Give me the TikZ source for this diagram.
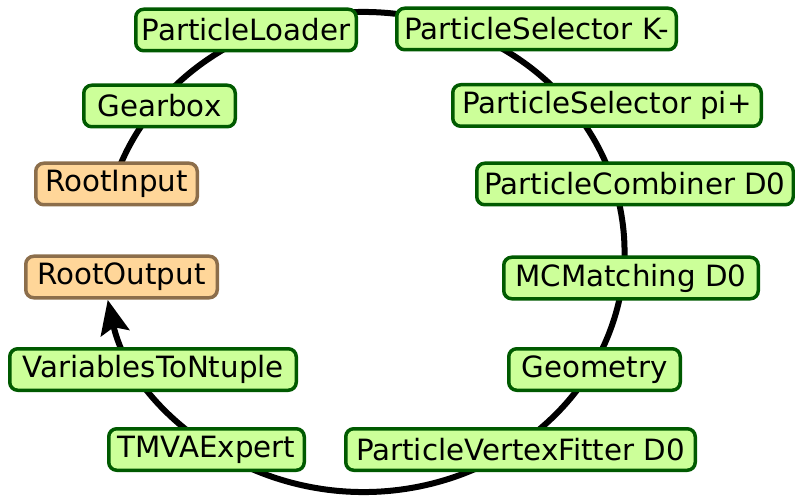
\documentclass[tikz,border=0pt]{standalone}
\usepackage{fontspec}
\setmainfont{DejaVu Sans}
\usetikzlibrary{arrows.meta,backgrounds,calc}
\definecolor{gfill}{HTML}{CCFF99}
\definecolor{gdraw}{HTML}{005A00}
\definecolor{ofill}{HTML}{FFD699}
\definecolor{odraw}{HTML}{8C6E4B}
\tikzset{
  modbox/.style={draw=gdraw, fill=gfill, line width=3.5pt, rounded corners=8pt,
    inner sep=0pt, minimum height=41.5pt, minimum width=#1,
    font=\fontsize{29.3}{34}\selectfont},
  iobox/.style={modbox=#1, draw=odraw, fill=ofill},
  ring/.style={line width=6pt, black},
}
\begin{document}
\begin{tikzpicture}[x=1pt,y=1pt]
\useasboundingbox (0,0) rectangle (795,496);
\node[modbox=220.5pt] (pl)  at (246,466)   {ParticleLoader};
\node[modbox=279.5pt] (psk) at (536.5,467) {ParticleSelector K-};
\node[modbox=151.5pt] (gb)  at (159.5,390) {Gearbox};
\node[modbox=308.5pt] (psp) at (607,390.5) {ParticleSelector pi+};
\node[iobox=161.5pt]  (ri)  at (116.5,312) {RootInput};
\node[modbox=316.5pt] (pc)  at (635,312)   {ParticleCombiner D0};
\node[iobox=191.5pt]  (ro)  at (121.5,219) {RootOutput};
\node[modbox=254.5pt] (mc)  at (631,218)   {MCMatching D0};
\node[modbox=286.5pt] (vt)  at (153,126.5) {VariablesToNtuple};
\node[modbox=171.5pt] (geo) at (594.5,126.5) {Geometry};
\node[modbox=195.5pt] (tm)  at (206.5,46.5) {TMVAExpert};
\node[modbox=349.5pt] (pvf) at (520.5,46.5) {ParticleVertexFitter D0};
\coordinate (arcstart) at ($(363.5,244)+(163.5:261 and 240)$);
\begin{pgfonlayer}{background}
\draw[ring, -{Stealth[length=34pt,width=29pt,inset=6pt]}]
  (arcstart) arc[start angle=163.5, end angle=-168.5, x radius=261, y radius=240];
\end{pgfonlayer}
\end{tikzpicture}
\end{document}
